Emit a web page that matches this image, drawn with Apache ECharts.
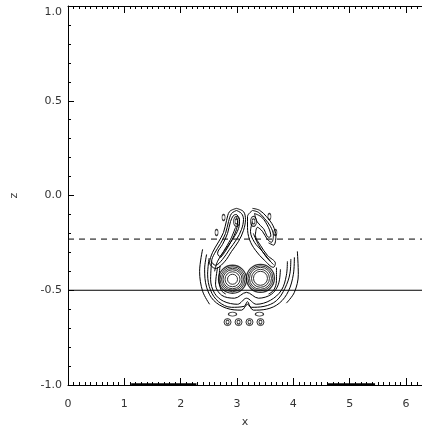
<!DOCTYPE html>
<html><head><meta charset="utf-8">
<script src="https://cdn.jsdelivr.net/npm/echarts@6/dist/echarts.min.js"></script>
<style>html,body{margin:0;padding:0;background:#fff}#c{width:422px;height:433px}</style>
</head><body><div id="c"></div>
<script>
// ---- data (x, z) ----
const X_TICKS = [0, 1, 2, 3, 4, 5, 6];
const Z_TICKS = [-1, -0.5, 0, 0.5, 1];
const X_RANGE = [0, 6.2832];
const Z_RANGE = [-1, 1];

const dashedLevel = [[0, -0.23], [6.2832, -0.23]];
const solidLevel = [[0, -0.5], [6.2832, -0.5]];
const bottomBand = [[1.12, -0.996], [2.28, -0.996], null, [4.6, -0.996], [5.45, -0.996]];

const leftArmOutermost = [[2.991,-0.068],[3.115,-0.085],[3.150,-0.126],[3.115,-0.184],[3.027,-0.242],[2.903,-0.295],[2.778,-0.350],[2.619,-0.385],[2.513,-0.355],[2.566,-0.300],[2.672,-0.245],[2.760,-0.195],[2.814,-0.132],[2.867,-0.085],[2.991,-0.068]];
const leftArmOuter = [[2.991,-0.079],[3.080,-0.095],[3.115,-0.126],[3.080,-0.179],[2.991,-0.232],[2.867,-0.284],[2.743,-0.337],[2.619,-0.368],[2.549,-0.347],[2.602,-0.305],[2.708,-0.253],[2.796,-0.200],[2.850,-0.137],[2.903,-0.095],[2.991,-0.079]];
const leftArmInner = [[2.991,-0.100],[3.044,-0.126],[3.027,-0.174],[2.920,-0.232],[2.796,-0.284],[2.690,-0.321],[2.655,-0.305],[2.743,-0.258],[2.832,-0.200],[2.885,-0.137],[2.938,-0.105],[2.991,-0.100]];
const leftArmCore = [[2.991,-0.115],[3.010,-0.140],[2.990,-0.180],[2.900,-0.240],[2.780,-0.300],[2.700,-0.330]];
const leftArmSpine = [[2.974,-0.168],[2.885,-0.232],[2.761,-0.295],[2.655,-0.347],[2.602,-0.400]];
const rightArmOuter = [[3.274,-0.079],[3.381,-0.089],[3.487,-0.121],[3.593,-0.163],[3.646,-0.211],[3.611,-0.247],[3.540,-0.232],[3.451,-0.189],[3.363,-0.168],[3.327,-0.211],[3.416,-0.263],[3.540,-0.316],[3.681,-0.358],[3.646,-0.379],[3.487,-0.342],[3.327,-0.289],[3.221,-0.232],[3.186,-0.168],[3.186,-0.111],[3.274,-0.079]];
const rightArmHook = [[3.274,-0.068],[3.400,-0.078],[3.525,-0.112],[3.640,-0.160],[3.690,-0.215],[3.650,-0.262],[3.560,-0.250]];
const rightHookLoop = [[3.310,-0.095],[3.440,-0.115],[3.560,-0.170],[3.600,-0.215],[3.560,-0.220],[3.470,-0.175],[3.360,-0.140],[3.310,-0.095]];
const rightArmInner = [[3.274,-0.137],[3.239,-0.189],[3.310,-0.247],[3.451,-0.295],[3.593,-0.347]];
const rightArmBranch = [[3.290,-0.200],[3.380,-0.260],[3.520,-0.325],[3.650,-0.365]];
const outerU = [[2.460,-0.311],[2.425,-0.389],[2.460,-0.484],[2.584,-0.553],[2.814,-0.595],[3.080,-0.605],[3.186,-0.574],[3.292,-0.605],[3.522,-0.600],[3.752,-0.568],[3.912,-0.505],[4.000,-0.416],[4.018,-0.326]];
const outerU2 = [[2.505,-0.330],[2.478,-0.415],[2.530,-0.500],[2.670,-0.560],[2.900,-0.590],[3.125,-0.585],[3.186,-0.560],[3.250,-0.590],[3.480,-0.585],[3.700,-0.555],[3.850,-0.490],[3.940,-0.410],[3.955,-0.335]];
const middleU = [[2.549,-0.347],[2.531,-0.442],[2.602,-0.516],[2.761,-0.558],[3.009,-0.574],[3.168,-0.542],[3.345,-0.574],[3.593,-0.553],[3.788,-0.500],[3.876,-0.421],[3.894,-0.347]];
const innerU = [[2.655,-0.379],[2.619,-0.468],[2.726,-0.526],[2.956,-0.542],[3.168,-0.511],[3.381,-0.542],[3.611,-0.521],[3.735,-0.468],[3.770,-0.389]];
const leftCrescent = [[2.700,-0.370],[2.680,-0.440],[2.720,-0.500],[2.800,-0.520]];
const rightCrescent = [[3.700,-0.380],[3.700,-0.450],[3.650,-0.500],[3.560,-0.520]];
const leftFlank = [[2.389,-0.284],[2.336,-0.400],[2.389,-0.505],[2.513,-0.574]];
const rightFlank = [[4.071,-0.295],[4.088,-0.416],[4.018,-0.511],[3.876,-0.568]];

const leftVortex = [[2.920, -0.442]];
const rightVortex = [[3.416, -0.437]];
const armTips = [[2.991, -0.137], [3.292, -0.137]];
const satelliteDots = [[2.761, -0.116], [3.575, -0.111], [2.637, -0.195], [3.681, -0.195]];
const lowerEddies = [[2.920, -0.626], [3.398, -0.626]];
const bottomEddies = [[2.832, -0.668], [3.027, -0.668], [3.221, -0.668], [3.416, -0.668]];

// ---- styles ----
const INK = '#000';
const lineSeries = (data, opts) => Object.assign({
  type: 'line', data, showSymbol: false, symbol: 'none', silent: true,
  smooth: 0.35, connectNulls: false,
  lineStyle: { color: INK, width: 1 }
}, opts || {});
const ringSeries = (data, size, width) => ({
  type: 'scatter', data, symbol: 'circle', symbolSize: size, silent: true,
  itemStyle: { color: 'rgba(0,0,0,0)', borderColor: INK, borderWidth: width || 1 }
});

const contours = [leftArmOutermost, leftArmOuter, leftArmInner, leftArmCore, leftArmSpine,
  rightArmOuter, rightArmHook, rightHookLoop, rightArmInner, rightArmBranch,
  outerU, outerU2, middleU, innerU, leftCrescent, rightCrescent, leftFlank, rightFlank];

const series = [
  lineSeries(dashedLevel, { smooth: false, lineStyle: { color: INK, width: 1, type: [6, 5] } }),
  lineSeries(solidLevel, { smooth: false }),
  lineSeries(bottomBand, { smooth: false, lineStyle: { color: INK, width: 2 } }),
  ...contours.map(c => lineSeries(c)),
  ringSeries(leftVortex, 28, 1.3), ringSeries(leftVortex, 25), ringSeries(leftVortex, 22), ringSeries(leftVortex, 19), ringSeries(leftVortex, 15), ringSeries(leftVortex, 10),
  ringSeries(rightVortex, 28, 1.3), ringSeries(rightVortex, 25), ringSeries(rightVortex, 22), ringSeries(rightVortex, 18), ringSeries(rightVortex, 14),
  ringSeries(armTips, [6, 10]), ringSeries(armTips, [3, 5]),
  ringSeries(satelliteDots, [3, 6]),
  ringSeries(lowerEddies, [8, 4]),
  ringSeries(bottomEddies, [7, 7]), ringSeries(bottomEddies, [3, 4])
];

const labelStyle = { color: '#333', fontSize: 11, fontFamily: 'DejaVu Sans' };
const xAxisBase = {
  type: 'value', min: X_RANGE[0], max: X_RANGE[1], interval: 1,
  axisLine: { show: true, onZero: false, lineStyle: { color: INK, width: 1 } },
  axisTick: { show: true, inside: true, length: 7, lineStyle: { color: INK } },
  minorTick: { show: true, splitNumber: 10, length: 3, lineStyle: { color: INK } },
  splitLine: { show: false }, minorSplitLine: { show: false }
};
const yAxisBase = {
  type: 'value', min: Z_RANGE[0], max: Z_RANGE[1], interval: 0.5,
  axisLine: { show: true, onZero: false, lineStyle: { color: INK, width: 1 } },
  axisTick: { show: true, inside: true, length: 6, lineStyle: { color: INK } },
  minorTick: { show: true, splitNumber: 5, length: 3, lineStyle: { color: INK } },
  splitLine: { show: false }, minorSplitLine: { show: false }
};

const chart = echarts.init(document.getElementById('c'), null, { renderer: 'canvas' });
chart.setOption({
  animation: false,
  backgroundColor: '#fff',
  grid: { left: 68, top: 6, width: 355, height: 380, containLabel: false },
  xAxis: [
    Object.assign({}, xAxisBase, {
      position: 'bottom', name: 'x', nameLocation: 'middle', nameGap: 32,
      nameTextStyle: labelStyle,
      axisLabel: Object.assign({ margin: 14, showMaxLabel: false,
        formatter: v => X_TICKS.includes(v) ? String(v) : '' }, labelStyle)
    }),
    Object.assign({}, xAxisBase, { position: 'top', axisLabel: { show: false } })
  ],
  yAxis: [
    Object.assign({}, yAxisBase, {
      position: 'left', name: 'z', nameLocation: 'middle', nameGap: 48, nameRotate: 90,
      nameTextStyle: labelStyle,
      axisLabel: Object.assign({ margin: 6,
        rich: { down: { color: '#333', fontSize: 11, fontFamily: 'DejaVu Sans', padding: [12, 0, 0, 0] } },
        formatter: v => {
          if (!Z_TICKS.includes(v)) return '';
          return v === Z_RANGE[1] ? '{down|' + v.toFixed(1) + '}' : v.toFixed(1);
        } }, labelStyle)
    }),
    Object.assign({}, yAxisBase, { position: 'right', axisTick: { show: false }, minorTick: { show: false }, axisLabel: { show: false } })
  ],
  series
});
</script></body></html>
